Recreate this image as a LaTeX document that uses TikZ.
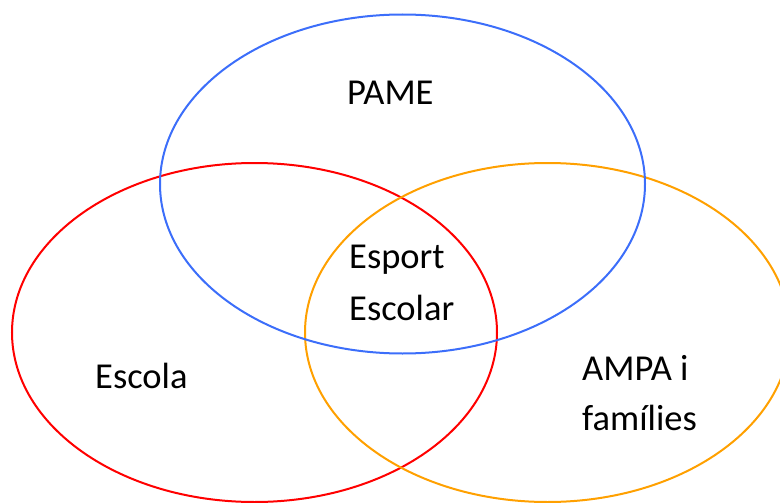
\documentclass[tikz,border=0pt]{standalone}
\usepackage{fontspec}
\setmainfont{Carlito}
\definecolor{pblue}{RGB}{60,110,250}
\definecolor{pred}{RGB}{255,0,0}
\definecolor{porange}{RGB}{255,160,0}
\begin{document}
\begin{tikzpicture}[x=1pt,y=-1pt,
  ring/.style={line width=2pt},
  lbl/.style={anchor=base west,inner sep=0pt,font=\fontsize{36.5}{51}\selectfont}]
\useasboundingbox (0,0) rectangle (780,503);
\clip (0,0) rectangle (780,503);
\coordinate (cred) at (254.5,332.5);
\coordinate (corange) at (547.5,332.5);
\coordinate (cblue) at (402.5,184);
\draw[ring,pred] (cred) ellipse [x radius=242.5pt, y radius=169.5pt];
\draw[ring,porange] (corange) ellipse [x radius=242.5pt, y radius=169.5pt];
\draw[ring,pblue] (cblue) ellipse [x radius=242.5pt, y radius=169.5pt];
\node[lbl] (pame) at (347,105) {PAME};
\node[lbl] (esport) at (349,268) {Esport};
\node[lbl] (escolar) at (349,320) {Escolar};
\node[lbl] (escola) at (95,388) {Escola};
\node[lbl] (ampa) at (582,380) {AMPA i};
\node[lbl] (families) at (582,430) {famílies};
\end{tikzpicture}
\end{document}
